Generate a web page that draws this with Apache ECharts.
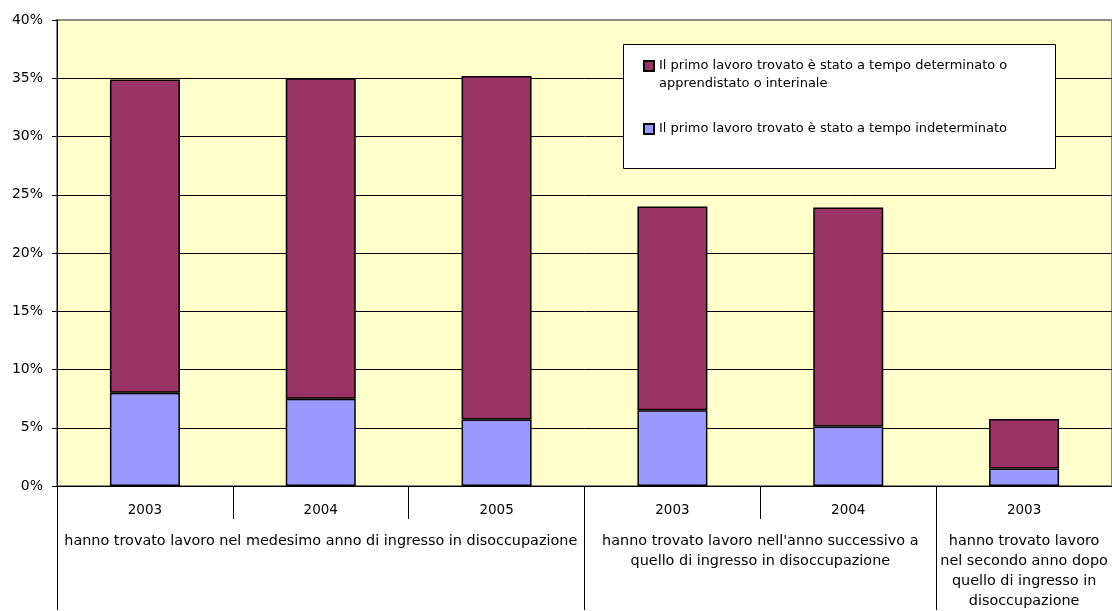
<!DOCTYPE html>
<html><head><meta charset="utf-8">
<script src="https://cdn.jsdelivr.net/npm/echarts@6/dist/echarts.min.js"></script>
<style>html,body{margin:0;padding:0;background:#fff}#c{width:1112px;height:611px}</style>
</head><body><div id="c"></div>
<script>
const years = ['2003', '2004', '2005', '2003', '2004', '2003'];
const groupLabels = [
  'hanno trovato lavoro nel medesimo anno di ingresso in disoccupazione',
  "hanno trovato lavoro nell'anno successivo a\nquello di ingresso in disoccupazione",
  'hanno trovato lavoro\nnel secondo anno dopo\nquello di ingresso in\ndisoccupazione'
];
const groupSizes = [3, 2, 1];
const indeterminato = [8.0, 7.5, 5.7, 6.5, 5.1, 1.5];
const determinato = [26.9, 27.5, 29.5, 17.5, 18.8, 4.25];
const seriesNames = [
  'Il primo lavoro trovato è stato a tempo determinato o apprendistato o interinale',
  'Il primo lavoro trovato è stato a tempo indeterminato'
];
const legendLabels = [
  ' \nIl primo lavoro trovato è stato a tempo determinato o\napprendistato o interinale',
  'Il primo lavoro trovato è stato a tempo indeterminato'
];
const yMin = 0, yMax = 40, yStep = 5;

const bounds = [0];
groupSizes.forEach(s => bounds.push(bounds[bounds.length - 1] + s));
const centers = groupSizes.map((s, i) => bounds[i] + s / 2);

const FONT = 'DejaVu Sans';
const chart = echarts.init(document.getElementById('c'));
const legendCommon = {
  orient: 'vertical', icon: 'rect', itemWidth: 10, itemHeight: 10, padding: 0,
  textStyle: { fontFamily: FONT, fontSize: 13, lineHeight: 18, color: '#000' },
  formatter: n => legendLabels[seriesNames.indexOf(n)],
  selectedMode: false, z: 5
};
chart.setOption({
  animation: false,
  textStyle: { fontFamily: FONT },
  grid: { left: 57, right: -12, top: 20, bottom: 124, show: true, backgroundColor: '#FFFFCC', borderColor: '#8a8a8a', borderWidth: 2 },
  graphic: { elements: [{ type: 'rect', left: 623, top: 44, z: 3, shape: { width: 432, height: 124 }, style: { fill: '#fff', stroke: '#000', lineWidth: 1 } }] },
  legend: [
    Object.assign({}, legendCommon, { left: 643, top: 39, data: [seriesNames[0]] }),
    Object.assign({}, legendCommon, { left: 643, top: 120, data: [seriesNames[1]] })
  ],
  xAxis: [
    {
      type: 'category', data: years, position: 'bottom',
      axisLine: { lineStyle: { color: '#000', width: 1 } },
      axisTick: { show: true, length: 33, lineStyle: { color: '#000' } },
      axisLabel: { fontSize: 13.5, color: '#000', margin: 17, fontFamily: FONT }
    },
    {
      type: 'value', min: bounds[0], max: bounds[bounds.length - 1], position: 'bottom',
      axisLine: { show: false }, splitLine: { show: false },
      axisTick: { show: true, length: 124, customValues: bounds, lineStyle: { color: '#000' } },
      axisLabel: { fontSize: 14.4, color: '#000', margin: 45, lineHeight: 20, verticalAlign: 'top', fontFamily: FONT,
        customValues: centers, formatter: v => groupLabels[centers.indexOf(v)] || '' }
    }
  ],
  yAxis: {
    type: 'value', min: yMin, max: yMax, interval: yStep,
    axisLine: { show: true, lineStyle: { color: '#000' } },
    axisTick: { show: true, length: 5, lineStyle: { color: '#000' } },
    axisLabel: { fontSize: 14, color: '#000', margin: 14, formatter: '{value}%', fontFamily: FONT },
    splitLine: { show: true, showMaxLine: false, lineStyle: { color: '#000', width: 1 } }
  },
  series: [
    { name: seriesNames[1], type: 'bar', stack: 's', data: indeterminato, barWidth: 70, xAxisIndex: 0,
      itemStyle: { color: '#9999FF', borderColor: '#000', borderWidth: 1.5 } },
    { name: seriesNames[0], type: 'bar', stack: 's', data: determinato, barWidth: 70, xAxisIndex: 0,
      itemStyle: { color: '#993366', borderColor: '#000', borderWidth: 1.5 } }
  ]
});
</script></body></html>
